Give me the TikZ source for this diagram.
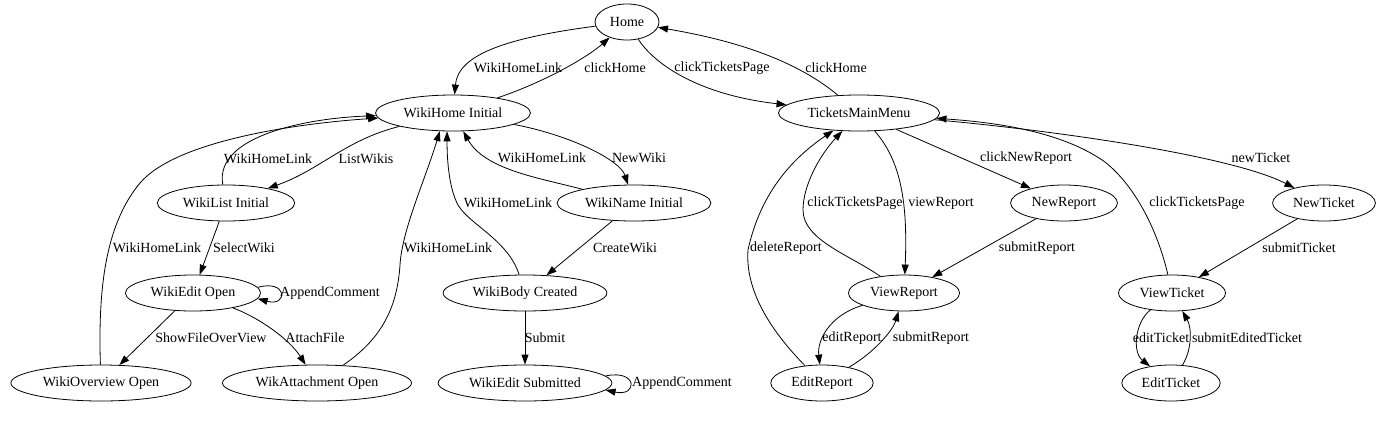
\documentclass[tikz,border=0pt]{standalone}
\usepackage{fontspec}
\setmainfont{Liberation Serif}
\usetikzlibrary{arrows.meta, shapes.geometric}
\newcommand{\gvfont}{\fontsize{14}{16}\selectfont}

\begin{document}
\begin{tikzpicture}[x=1pt, y=-1pt,
  state/.style={draw, ellipse, line width=0.8pt, minimum height=36pt,
                inner xsep=5.5pt, inner ysep=2pt, font=\gvfont},
  lbl/.style={inner sep=1pt, font=\gvfont},
  tr/.style={draw, line width=0.8pt, -{Triangle[length=10pt,width=7pt]}}]

\useasboundingbox (0,0) rectangle (1385,424);

% Row 1
\node[state] (home) at (627,22) {Home};

% Row 2
\node[state] (wikihome) at (453,113) {WikiHome Initial};
\node[state] (tmm) at (859,113) {TicketsMainMenu};

% Row 3
\node[state] (wikilist) at (226,203) {WikiList Initial};
\node[state] (wikiname) at (634,203) {WikiName Initial};
\node[state] (newreport) at (1064,203) {NewReport};
\node[state] (newticket) at (1324,203) {NewTicket};

% Row 4
\node[state] (wikiedit) at (193,293) {WikiEdit Open};
\node[state] (wikibody) at (525,293) {WikiBody Created};
\node[state] (viewreport) at (904,293) {ViewReport};
\node[state] (viewticket) at (1172,293) {ViewTicket};

% Row 5
\node[state] (wikioverview) at (101,383) {WikiOverview Open};
\node[state] (wikattach) at (317,383) {WikAttachment Open};
\node[state] (wikisub) at (525,383) {WikiEdit Submitted};
\node[state] (editreport) at (822,383) {EditReport};
\node[state] (editticket) at (1171,383) {EditTicket};

% Home <-> WikiHome / TicketsMainMenu
\draw[tr] (home) .. controls (505,38) and (458,55) .. (wikihome);
\node[lbl] (l1) at (518,68) {WikiHomeLink};
\draw[tr] (wikihome) .. controls (550,80) and (590,55) .. (home);
\node[lbl] (l2) at (615,68) {clickHome};
\draw[tr] (home) .. controls (655,65) and (700,95) .. (tmm);
\node[lbl] (l3) at (722,68) {clickTicketsPage};
\draw[tr] (tmm) .. controls (790,55) and (720,38) .. (home);
\node[lbl] (l4) at (836,68) {clickHome};

% Wiki side
\draw[tr] (wikihome) .. controls (345,140) and (320,170) .. (wikilist);
\node[lbl] (l5) at (366,159) {ListWikis};
\draw[tr] (wikilist) .. controls (214,135) and (310,118) .. (wikihome);
\node[lbl] (l6) at (268,159) {WikiHomeLink};
\draw[tr] (wikihome) .. controls (570,135) and (620,160) .. (wikiname);
\node[lbl] (l7) at (639,158) {NewWiki};
\draw[tr] (wikiname) .. controls (540,178) and (485,170) .. (wikihome);
\node[lbl] (l8) at (542,158) {WikiHomeLink};
\draw[tr] (wikioverview) .. controls (98,290) and (105,225) .. (140,183)
          .. controls (175,142) and (290,124) .. (wikihome);
\node[lbl] (l9) at (157,248) {WikiHomeLink};
\draw[tr] (wikattach) .. controls (380,340) and (397,310) .. (400,265)
          .. controls (402,230) and (425,180) .. (wikihome.234);
\node[lbl] (l10) at (448,248) {WikiHomeLink};
\draw[tr] (wikibody) .. controls (508,240) and (470,225) .. (458,205)
          .. controls (450,190) and (447,165) .. (wikihome.252);
\node[lbl] (l11) at (508,203) {WikiHomeLink};
\draw[tr] (wikilist) -- (wikiedit);
\node[lbl] (l12) at (244,248) {SelectWiki};
\draw[tr] (wikiname) -- (wikibody);
\node[lbl] (l13) at (625,248) {CreateWiki};
\draw[tr] (wikiedit.5) .. controls (288,279) and (288,307) .. (wikiedit.-5);
\node[lbl] (l14) at (330,293) {AppendComment};
\draw[tr] (wikiedit) -- (wikioverview);
\node[lbl] (l15) at (211,338) {ShowFileOverView};
\draw[tr] (wikiedit) .. controls (260,318) and (290,340) .. (wikattach);
\node[lbl] (l16) at (315,338) {AttachFile};
\draw[tr] (wikibody) -- (wikisub);
\node[lbl] (l17) at (545,338) {Submit};
\draw[tr] (wikisub.5) .. controls (638,369) and (638,397) .. (wikisub.-5);
\node[lbl] (l18) at (682,383) {AppendComment};

% Tickets side
\draw[tr] (tmm) -- (newreport);
\node[lbl] (l19) at (1026,158) {clickNewReport};
\draw[tr] (tmm) .. controls (1050,130) and (1230,155) .. (newticket);
\node[lbl] (l20) at (1261,158) {newTicket};
\draw[tr] (tmm) .. controls (900,160) and (908,200) .. (viewreport);
\node[lbl] (l21) at (941,203) {viewReport};
\draw[tr] (viewreport) .. controls (850,255) and (803,240) .. (803,210)
          .. controls (803,185) and (820,155) .. (tmm);
\node[lbl] (l22) at (855,203) {clickTicketsPage};
\draw[tr] (editreport) .. controls (770,330) and (745,290) .. (748,250)
          .. controls (760,195) and (790,160) .. (tmm);
\node[lbl] (l23) at (786,248) {deleteReport};
\draw[tr] (newreport) -- (viewreport);
\node[lbl] (l24) at (1037,248) {submitReport};
\draw[tr] (viewreport) .. controls (830,315) and (817,340) .. (editreport);
\node[lbl] (l25) at (852,338) {editReport};
\draw[tr] (editreport) .. controls (875,352) and (893,330) .. (viewreport);
\node[lbl] (l26) at (931,338) {submitReport};
\draw[tr] (viewticket) .. controls (1160,240) and (1140,190) .. (1105,162)
          .. controls (1060,130) and (990,122) .. (tmm);
\node[lbl] (l27) at (1197,203) {clickTicketsPage};
\draw[tr] (newticket) -- (viewticket);
\node[lbl] (l28) at (1299,248) {submitTicket};
\draw[tr] (viewticket) .. controls (1135,322) and (1132,352) .. (editticket);
\node[lbl] (l29) at (1161,338) {editTicket};
\draw[tr] (editticket) .. controls (1192,350) and (1192,328) .. (viewticket);
\node[lbl] (l30) at (1247,338) {submitEditedTicket};

\end{tikzpicture}
\end{document}
